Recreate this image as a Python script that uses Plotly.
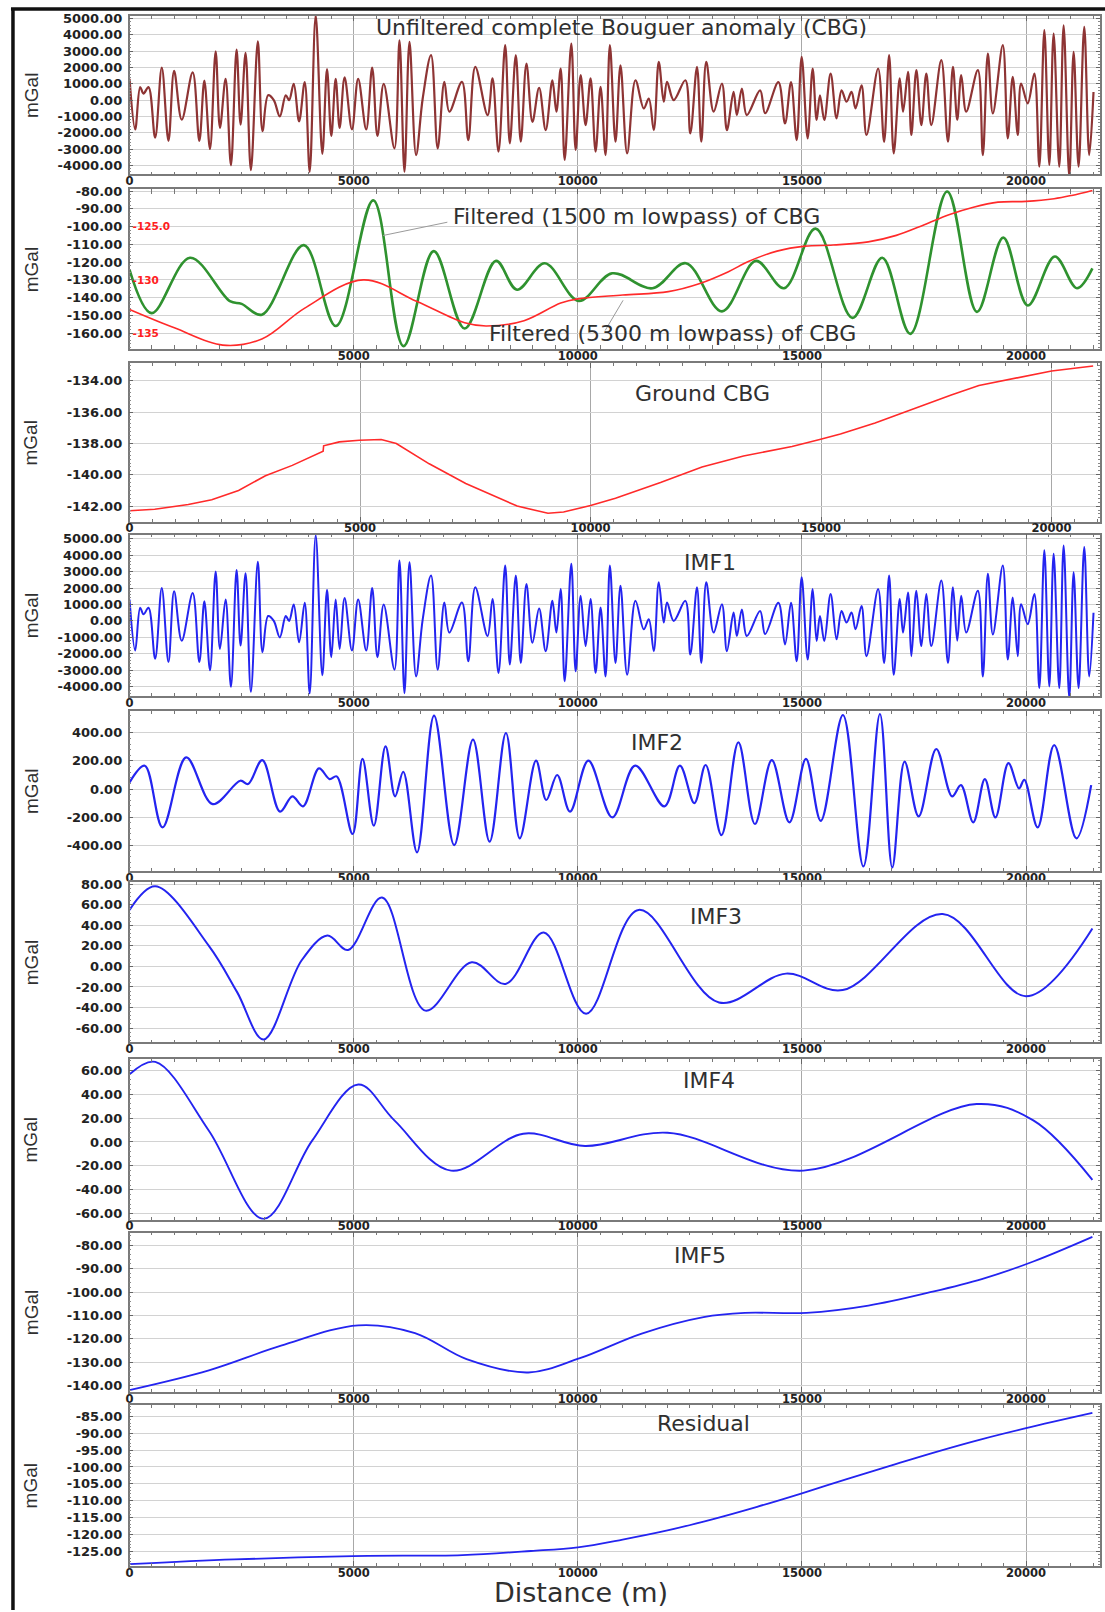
import plotly.graph_objects as go

FIG_W, FIG_H = 1105, 1612

# ---------------------------------------------------------------------------
# Profile data (distance along profile in m, anomaly in mGal)
# ---------------------------------------------------------------------------

# Unfiltered complete Bouguer anomaly, sampled at the turning points of the trace
cbg_dist = [
    0, 126, 237, 311, 423, 571, 719, 868, 994, 1164, 1409, 1557, 1669, 1795, 1921,
    2017, 2143, 2262, 2388, 2477, 2588, 2707, 2862, 2966, 3092, 3218, 3352, 3485,
    3560, 3663, 3782, 3908, 4019, 4153, 4301, 4405, 4501, 4598, 4687, 4798, 4961,
    5100, 5280, 5413, 5530, 5670, 5910, 6022, 6133, 6245, 6392, 6540, 6726, 6874,
    7023, 7134, 7416, 7557, 7713, 7987, 8098, 8231, 8380, 8483, 8617, 8728, 8854,
    8988, 9137, 9284, 9433, 9522, 9618, 9707, 9855, 9952, 10063, 10174, 10285,
    10397, 10508, 10619, 10716, 10841, 10952, 11101, 11286, 11472, 11584, 11695,
    11806, 11918, 11991, 12140, 12399, 12510, 12659, 12755, 12866, 13030, 13215,
    13326, 13475, 13548, 13660, 13771, 14067, 14179, 14475, 14623, 14757, 14883,
    14994, 15128, 15239, 15328, 15402, 15499, 15640, 15773, 15884, 15996, 16107,
    16196, 16330, 16441, 16700, 16833, 16945, 17048, 17182, 17256, 17367, 17441,
    17553, 17664, 17775, 17887, 18109, 18258, 18369, 18465, 18554, 18665, 18925,
    19036, 19148, 19259, 19481, 19592, 19703, 19815, 19889, 20037, 20185, 20296,
    20408, 20519, 20615, 20741, 20838, 20964, 21061, 21172, 21298, 21409, 21505,
]
cbg_mgal = [
    1300, -1800, 800, 400, 800, -2300, 2000, -2500, 1800, -1200, 1700, -2500, 1200,
    -3000, 3000, -1700, 1300, -4000, 3100, -1500, 2900, -4300, 3600, -1900, 300, 0,
    -1000, 300, 0, 1000, -1300, 1100, -4400, 5200, -3300, 1900, -2200, 1300, -1700,
    1400, -1800, 1300, -1800, 2000, -2200, 1000, -2960, 3670, -4390, 3570, -3370,
    100, 2760, -2960, 1120, -710, 1120, -2450, 2040, -920, 1330, -3160, 3370, -2650,
    2760, -2550, 2240, -1330, 760, -1840, 1220, -710, 1940, -3670, 3470, -3060, 1530,
    -1530, 1330, -3160, 820, -3370, 3370, -2550, 2140, -3270, 1220, -510, 100, -1840,
    2350, -100, 1120, 0, 1220, -2040, 2040, -2550, 2350, -710, 1020, -1840, 510, -920,
    700, -920, 600, -800, 1100, -1430, 1100, -2450, 2650, -2350, 1940, -1220, 300,
    -1220, 1630, -1120, 600, -100, 510, -510, 900, -2140, 1940, -2550, 2760, -3270,
    1330, -710, 1730, -2140, 1840, -1530, 1630, -1530, 2450, -2550, 2040, -1200, 1530,
    -710, 1840, -3370, 2860, -820, 3370, -2350, 1430, -2140, 1020, -200, 1630, -4080,
    4290, -3980, 4080, -4080, 4590, -4690, 2960, -4080, 4490, -3370, 500,
]

# 1500 m low-pass of the CBG
lp1500_dist = [
    0, 492, 1349, 2238, 2500, 2952, 3889, 4603, 5437, 6111, 6786, 7476, 8175, 8643,
    9262, 10023, 10767, 11667, 12410, 13216, 13975, 14601, 15305, 16127, 16792,
    17418, 18240, 18905, 19491, 20039, 20642, 21135, 21480,
]
lp1500_mgal = [
    -124.3, -148.7, -117.5, -142.0, -143.5, -149.6, -110.4, -156.0, -85.2, -167.3,
    -113.8, -157.4, -119.3, -135.5, -120.6, -141.8, -126.3, -134.7, -120.6, -147.7,
    -119.3, -134.7, -101.1, -151.4, -117.5, -160.4, -80.2, -148.0, -106.2, -144.4,
    -116.8, -134.7, -123.5,
]

# 5300 m low-pass of the CBG (read on the red inner scale)
lp5300_dist = [
    0, 1000, 2079, 2952, 3900, 5214, 6400, 7476, 7952, 8800, 9619, 10000, 11002,
    12019, 12723, 13349, 13818, 14444, 15070, 15696, 16479, 17105, 17731, 18279,
    18826, 19374, 20000, 20626, 21017, 21480,
]
lp5300_mgal = [
    -132.77, -134.50, -136.12, -135.55, -132.67, -130.00, -132.00, -134.03, -134.33,
    -133.83, -132.17, -131.78, -131.42, -131.10, -130.33, -129.25, -128.25, -127.30,
    -126.83, -126.73, -126.43, -125.82, -124.82, -123.88, -123.17, -122.70, -122.63,
    -122.38, -122.07, -121.60,
]

# Ground CBG
ground_dist = [
    0, 546, 1274, 1783, 2365, 2948, 3530, 4148, 4199, 4210, 4549, 4985, 5459, 5786,
    6500, 7292, 8407, 9076, 9414, 10000, 10540, 11517, 12417, 13318, 14369, 14970,
    15420, 16171, 16997, 17823, 18423, 19024, 20000, 20901,
]
ground_mgal = [
    -142.30, -142.20, -141.90, -141.60, -141.00, -140.06, -139.40, -138.60, -138.50,
    -138.15, -137.90, -137.80, -137.75, -138.00, -139.30, -140.56, -142.00, -142.46,
    -142.38, -141.96, -141.50, -140.50, -139.50, -138.80, -138.20, -137.75, -137.40,
    -136.70, -135.80, -134.90, -134.30, -133.94, -133.37, -133.05,
]

# IMF1 carries practically all of the short-wavelength energy of the CBG
imf1_dist = cbg_dist
imf1_mgal = cbg_mgal

imf2_dist = [
    0, 340, 735, 1264, 1856, 2472, 2646, 2962, 3357, 3633, 3870, 4226, 4463, 4621,
    4976, 5197, 5450, 5711, 5924, 6106, 6414, 6793, 7243, 7662, 8033, 8397, 8705,
    9068, 9297, 9540, 9827, 10236, 10770, 11280, 11932, 12278, 12600, 12852, 13205,
    13582, 13951, 14328, 14721, 15090, 15420, 15915, 16371, 16740, 17015, 17290,
    17604, 17997, 18350, 18547, 18822, 19081, 19317, 19607, 19843, 19961, 20259,
    20628, 21123, 21453,
]
imf2_mgal = [
    47, 166, -273, 225, -107, 59, 36, 206, -161, -52, -123, 147, 71, 90, -320, 214,
    -261, 304, -52, 123, -451, 522, -399, 351, -375, 399, -351, 202, -78, 100, -161,
    202, -202, 166, -123, 166, -100, 171, -328, 332, -249, 206, -237, 214, -226, 527,
    -551, 534, -558, 195, -195, 285, -52, 28, -237, 71, -202, 185, 5, 66, -273, 313,
    -351, 28,
]

imf3_dist = [
    0, 575, 1770, 2400, 2990, 3840, 4414, 4874, 5633, 6600, 7633, 8390, 9240, 10185,
    11357, 13150, 14645, 15910, 18140, 20000, 21480,
]
imf3_mgal = [
    55, 78, 20, -25, -71, 6, 30, 16, 67, -43, 4, -17, 33, -46, 55, -35, -7, -23, 51,
    -29, 37,
]

imf4_dist = [
    0, 575, 1770, 2990, 4070, 5104, 5908, 7173, 8782, 10162, 12001, 15036, 18898,
    20162, 21480,
]
imf4_mgal = [
    56.6, 66.9, 9.4, -64.3, 0.9, 48.0, 18.0, -24.0, 6.9, -3.4, 7.7, -24.0, 31.7,
    18.0, -31.7,
]

imf5_dist = [
    0, 1770, 3380, 5104, 6368, 7518, 8897, 10047, 11426, 12806, 13725, 15104, 16483,
    17863, 19012, 20162, 21480,
]
imf5_mgal = [
    -141.8, -133.4, -122.9, -114.2, -117.5, -128.6, -134.3, -128.2, -117.7, -110.7,
    -108.9, -108.9, -105.8, -100.1, -94.5, -87.0, -76.5,
]

resid_dist = [
    0, 2334, 4983, 7428, 8956, 10000, 11000, 12000, 13000, 14000, 15000, 16000,
    17000, 18000, 19000, 20000, 21480,
]
resid_mgal = [
    -128.8, -127.4, -126.4, -126.1, -124.9, -123.8, -121.5, -118.8, -115.5, -111.8,
    -107.8, -103.6, -99.5, -95.5, -91.8, -88.5, -84.0,
]

# Axis tick values (mGal)
ticks_cbg = [-4000, -3000, -2000, -1000, 0, 1000, 2000, 3000, 4000, 5000]
ticks_lp = [-160, -150, -140, -130, -120, -110, -100, -90, -80]
ticks_lp5300 = [-135, -130, -125]
ticks_lp5300_text = ["-135", "-130", "-125.0"]
ticks_ground = [-142, -140, -138, -136, -134]
ticks_imf2 = [-400, -200, 0, 200, 400]
ticks_imf3 = [-60, -40, -20, 0, 20, 40, 60, 80]
ticks_imf4 = [-60, -40, -20, 0, 20, 40, 60]
ticks_imf5 = [-140, -130, -120, -110, -100, -90, -80]
ticks_resid = [-125, -120, -115, -110, -105, -100, -95, -90, -85]
ticks_dist = [0, 5000, 10000, 15000, 20000]

# ---------------------------------------------------------------------------
# Layout of the stacked panels (pixel boxes on the page)
# ---------------------------------------------------------------------------
PLOT_LEFT, PLOT_RIGHT = 126, 1100
YTICK_FONT = dict(family="DejaVu Sans", size=13, color="#222222", weight="bold")
XTICK_FONT = dict(family="DejaVu Sans", size=11.5, color="#222222", weight="bold")
TITLE_FONT = dict(family="DejaVu Sans", size=22, color="#303030")

panels = [
    dict(top=11, bottom=170, yr=[-4550, 5165], ticks=ticks_cbg, minor=200, xmax=21650,
         traces=[(cbg_dist, cbg_mgal, "#8e3434", 2.2, "spline", None)]),
    dict(top=185, bottom=346, yr=[-169.2, -78.9], ticks=ticks_lp, minor=2, xmax=21650,
         traces=[(lp1500_dist, lp1500_mgal, "#2f922f", 2.6, "spline", None),
                 (lp5300_dist, lp5300_mgal, "#ff2a2a", 1.6, "spline", "y10")]),
    dict(top=360, bottom=519, yr=[-143.0, -132.89], ticks=ticks_ground, minor=0.25, xmax=21050,
         traces=[(ground_dist, ground_mgal, "#ff2a2a", 1.6, "linear", None)]),
    dict(top=532, bottom=694, yr=[-4561, 5241], ticks=ticks_cbg, minor=200, xmax=21650,
         traces=[(imf1_dist, imf1_mgal, "#2424f0", 2.0, "spline", None)]),
    dict(top=709, bottom=870, yr=[-585, 556], ticks=ticks_imf2, minor=40, xmax=21650,
         traces=[(imf2_dist, imf2_mgal, "#2424f0", 2.2, "spline", None)]),
    dict(top=881, bottom=1042, yr=[-74, 82], ticks=ticks_imf3, minor=4, xmax=21650,
         traces=[(imf3_dist, imf3_mgal, "#2424f0", 2.0, "spline", None)]),
    dict(top=1059, bottom=1220, yr=[-65, 69], ticks=ticks_imf4, minor=4, xmax=21650,
         traces=[(imf4_dist, imf4_mgal, "#2424f0", 1.9, "spline", None)]),
    dict(top=1233, bottom=1393, yr=[-142.6, -74.7], ticks=ticks_imf5, minor=2, xmax=21650,
         traces=[(imf5_dist, imf5_mgal, "#2424f0", 1.8, "spline", None)]),
    dict(top=1406, bottom=1568, yr=[-129.4, -81.6], ticks=ticks_resid, minor=1, xmax=21650,
         traces=[(resid_dist, resid_mgal, "#2424f0", 1.8, "spline", None)]),
]


def paper_x(px):
    return px / FIG_W


def paper_y(py):
    return 1 - py / FIG_H


fig = go.Figure()
layout = dict(
    width=FIG_W, height=FIG_H,
    margin=dict(l=0, r=0, t=0, b=0),
    paper_bgcolor="white", plot_bgcolor="white",
    showlegend=False,
)

for i, p in enumerate(panels, start=1):
    sfx = "" if i == 1 else str(i)
    xname, yname = "x" + sfx, "y" + sfx
    layout["xaxis" + sfx] = dict(
        domain=[paper_x(PLOT_LEFT), paper_x(PLOT_RIGHT)],
        anchor=yname, range=[0, p["xmax"]],
        tickmode="array", tickvals=ticks_dist, ticktext=[str(v) for v in ticks_dist],
        tickfont=XTICK_FONT, ticks="inside", ticklen=5, tickcolor="#666666",
        ticklabelstandoff=-5,
        minor=dict(tickmode="linear", tick0=0, dtick=500, ticks="inside",
                   ticklen=3, tickcolor="#777777"),
        showgrid=True, gridcolor="#a8a8a8", gridwidth=1.2,
        showline=True, linecolor="#7a7a7a", linewidth=1.5, mirror="allticks",
        zeroline=False, fixedrange=True,
    )
    layout["yaxis" + sfx] = dict(
        domain=[paper_y(p["bottom"]), paper_y(p["top"])],
        anchor=xname, range=p["yr"],
        tickmode="array", tickvals=p["ticks"], ticktext=[f"{v:.2f}" for v in p["ticks"]],
        tickfont=YTICK_FONT, ticks="inside", ticklen=4, tickcolor="#666666",
        ticklabelstandoff=3,
        minor=dict(tickmode="linear", tick0=0, dtick=p["minor"], ticks="inside",
                   ticklen=2, tickcolor="#888888"),
        showgrid=True, gridcolor="#d2d2d2", gridwidth=1,
        showline=True, linecolor="#7a7a7a", linewidth=1.5, mirror="allticks",
        zeroline=False, fixedrange=True,
    )
    for xs, ys, color, width, shape, yref in p["traces"]:
        fig.add_trace(go.Scatter(
            x=xs, y=ys, mode="lines",
            line=dict(color=color, width=width, shape=shape, smoothing=1.0),
            xaxis=xname, yaxis=yref or yname, hoverinfo="skip",
        ))

# Inner red scale of the 5300 m low-pass curve: -125 / -130 / -135
# sit on the -100 / -130 / -160 lines of the main scale (5 units per 30).
y2lo, y2hi = layout["yaxis2"]["range"]
layout["yaxis10"] = dict(
    overlaying="y2", anchor="x2", side="left",
    range=[-125 + (y2lo + 100) / 6, -125 + (y2hi + 100) / 6],
    tickmode="array", tickvals=ticks_lp5300, ticktext=ticks_lp5300_text,
    ticklabelposition="inside", ticks="",
    tickfont=dict(family="DejaVu Sans", size=10.5, color="#ff2020", weight="bold"),
    showgrid=False, showline=False, zeroline=False, fixedrange=True,
)


def label(text, x, y, size=None, xanchor="center", angle=0, family=None,
          yanchor="middle"):
    font = dict(TITLE_FONT)
    if size:
        font["size"] = size
    if family:
        font["family"] = family
    return dict(text=text, x=paper_x(x), y=paper_y(y), xref="paper", yref="paper",
                xanchor=xanchor, yanchor=yanchor, showarrow=False,
                textangle=angle, font=font)


annotations = [
    label("Unfiltered complete Bouguer anomaly (CBG)", 620, 23),
    label("Filtered (1500 m lowpass) of CBG", 449, 212, xanchor="left"),
    label("Filtered (5300 m lowpass) of CBG", 485, 330, xanchor="left"),
    label("Ground CBG", 701, 390),
    label("IMF1", 709, 560),
    label("IMF2", 655, 741),
    label("IMF3", 715, 915),
    label("IMF4", 708, 1080),
    label("IMF5", 699, 1256),
    label("Residual", 702, 1425),
    label("Distance (m)", 579, 1612, size=27, yanchor="bottom"),
]
for p in panels:
    annotations.append(label("mGal", 27, (p["top"] + p["bottom"]) / 2, size=19,
                             angle=-90, family="Liberation Sans"))
layout["annotations"] = annotations

shapes = [
    # leader lines from the labels to the two filtered curves
    dict(type="line", xref="x2", yref="y2", x0=5650, y0=-105, x1=7090, y1=-97.5,
         line=dict(color="#9a9a9a", width=1)),
    dict(type="line", xref="x2", yref="y2", x0=11010, y0=-141.5, x1=10610, y1=-158.5,
         line=dict(color="#9a9a9a", width=1)),
    # outer frame
    dict(type="line", xref="paper", yref="paper", x0=paper_x(9), x1=paper_x(9),
         y0=0, y1=paper_y(3), line=dict(color="#111111", width=3.5)),
    dict(type="line", xref="paper", yref="paper", x0=paper_x(7), x1=1,
         y0=paper_y(4), y1=paper_y(4), line=dict(color="#111111", width=3.5)),
]
layout["shapes"] = shapes

fig.update_layout(**layout)
fig.write_html("out.html")
